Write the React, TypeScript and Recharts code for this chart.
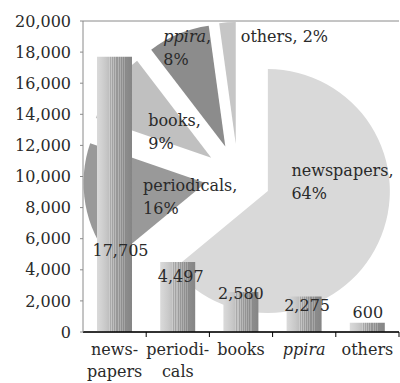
import React from 'react';
import { BarChart, Bar, XAxis, YAxis, CartesianGrid, LabelList, PieChart, Pie, Cell } from 'recharts';

// ---------- data ----------
const categories = ['newspapers', 'periodicals', 'books', 'ppira', 'others'];
const values = [17705, 4497, 2580, 2275, 600];
const tickLabels = [['news-', 'papers'], ['periodi-', 'cals'], ['books'], ['ppira'], ['others']];
const yTicks = [0, 2000, 4000, 6000, 8000, 10000, 12000, 14000, 16000, 18000, 20000];
const italicCategories = ['ppira'];

const data = categories.map((name, i) => ({ name, value: values[i] }));
const total = values.reduce((a, b) => a + b, 0);
const percents = values.map((v) => Math.round((v / total) * 100));

// ---------- layout / style ----------
const W = 400;
const H = 383;
const FONT = '"DejaVu Serif", serif';
const MARGIN = { top: 21, right: 1, left: 0, bottom: 0 };
const Y_AXIS_W = 83;
const X_AXIS_H = 51;
const PLOT_BOTTOM = H - X_AXIS_H;
const BAND = (W - Y_AXIS_W - MARGIN.right) / categories.length;
const TEXT = '#2a2a2a';

const sliceColors = ['#d9d9d9', '#999999', '#c0c0c0', '#8c8c8c', '#c6c6c6'];
const PIE_CX = 238;
const PIE_CY = 177;
const PIE_R = 122;
const EXPLODE = 33;

// label offsets relative to each exploded slice vertex: [dx, baseline dy]
const pieLabelOffsets = [
  [23.6, -15],
  [-62.5, 8],
  [-63, -31.7],
  [-62, -104.5],
  [5, -102],
];
const pieLabelSingleLine = [false, false, false, false, true];
const PIE_LINE_H = 23;

// bar value label offsets: [dx from bar centre, baseline dy from bar top]
const barLabelOffsets = [
  [6, 199],
  [3, 20],
  [0, 7.5],
  [3, 14],
  [0.5, -5],
];

// slice mid angles (recharts convention, start at 90, clockwise)
let cum = 0;
const sliceVertices = values.map((v) => {
  const mid = 90 - (360 * (cum + v / 2)) / total;
  cum += v;
  const rad = (mid * Math.PI) / 180;
  return [PIE_CX + EXPLODE * Math.cos(rad), PIE_CY - EXPLODE * Math.sin(rad)];
});

// stripe gradient stops
const stripeStops: { offset: string; color: string }[] = [];
(() => {
  const push = (o: number, c: string) => stripeStops.push({ offset: `${o}%`, color: c });
  push(0, '#dadada');
  push(12, '#d2d2d2');
  push(25, '#c8c8c8');
  push(34, '#bfbfbf');
  const light = ['#cbcbcb', '#c4c4c4', '#bdbdbd', '#b8b8b8', '#b2b2b2', '#adadad', '#a8a8a8', '#a4a4a4'];
  const dark = ['#a9a9a9', '#a3a3a3', '#9d9d9d', '#989898', '#949494', '#909090', '#8d8d8d', '#8a8a8a'];
  let o = 34;
  const w = 3.1;
  for (let k = 0; k < light.length; k++) {
    push(o, light[k]);
    push(o + w, light[k]);
    push(o + w, dark[k]);
    push(o + 2 * w, dark[k]);
    o += 2 * w;
  }
  push(o, '#8c8c8c');
  push(100, '#858585');
})();

const XTick = (props: any) => {
  const { x, payload } = props;
  const idx = categories.indexOf(payload.value);
  const lines = tickLabels[idx] || [String(payload.value)];
  const italic = italicCategories.includes(payload.value);
  const bx = x + BAND / 2;
  return (
    <g>
      <line x1={bx} x2={bx} y1={PLOT_BOTTOM} y2={PLOT_BOTTOM + 5} stroke="#000" strokeWidth={1} />
      <text
        textAnchor="middle"
        fill={TEXT}
        fontSize={16}
        fontFamily={FONT}
        fontStyle={italic ? 'italic' : 'normal'}
      >
        {lines.map((l, k) => (
          <tspan key={k} x={x} y={PLOT_BOTTOM + 23 + k * 22}>
            {l}
          </tspan>
        ))}
      </text>
    </g>
  );
};

const BarValueLabel = (props: any) => {
  const { x, y, width, value, index } = props;
  const [dx, dy] = barLabelOffsets[index] || [0, -4];
  return (
    <text
      x={x + width / 2 + dx}
      y={y + dy}
      textAnchor="middle"
      fill={TEXT}
      fontSize={16}
      fontFamily={FONT}
    >
      {Number(value).toLocaleString('en-US')}
    </text>
  );
};

const makePieLabel = (i: number) => (props: any) => {
  if (props.index !== i) return null;
  const [vx, vy] = sliceVertices[i];
  const [dx, dy] = pieLabelOffsets[i];
  const name = categories[i];
  const italic = italicCategories.includes(name);
  const pctText = `${percents[i]}%`;
  if (pieLabelSingleLine[i]) {
    return (
      <text x={vx + dx} y={vy + dy} fill={TEXT} fontSize={16} fontFamily={FONT}>
        <tspan fontStyle={italic ? 'italic' : 'normal'}>{name}</tspan>
        {`, ${pctText}`}
      </text>
    );
  }
  return (
    <text fill={TEXT} fontSize={16} fontFamily={FONT}>
      <tspan x={vx + dx} y={vy + dy} fontStyle={italic ? 'italic' : 'normal'}>
        {name}
      </tspan>
      <tspan>,</tspan>
      <tspan x={vx + dx} y={vy + dy + PIE_LINE_H}>
        {pctText}
      </tspan>
    </text>
  );
};

const layer: React.CSSProperties = { position: 'absolute', left: 0, top: 0, width: W, height: H };

export default function App() {
  return (
    <div style={{ position: 'absolute', left: 0, top: 0, width: W, height: H, background: '#fff', fontFamily: FONT }}>
      {/* grid layer */}
      <div style={layer}>
        <BarChart width={W} height={H} data={data} margin={MARGIN}>
          <CartesianGrid vertical={false} stroke="#8a8a8a" strokeWidth={1} />
          <XAxis dataKey="name" height={X_AXIS_H} tick={false} axisLine={false} tickLine={false} />
          <YAxis
            width={Y_AXIS_W}
            domain={[0, 20000]}
            ticks={yTicks}
            tick={false}
            axisLine={false}
            tickLine={false}
          />
        </BarChart>
      </div>
      {/* exploded pie layer */}
      <div style={layer}>
        <PieChart width={W} height={H} margin={{ top: 0, right: 0, bottom: 0, left: 0 }}>
          {categories.map((_, i) => (
            <Pie
              key={i}
              data={data}
              dataKey="value"
              nameKey="name"
              cx={sliceVertices[i][0]}
              cy={sliceVertices[i][1]}
              outerRadius={PIE_R}
              innerRadius={0}
              startAngle={90}
              endAngle={-270}
              stroke="none"
              isAnimationActive={false}
              labelLine={false}
              label={makePieLabel(i)}
            >
              {data.map((_, j) => (
                <Cell key={j} fill={j === i ? sliceColors[j] : 'none'} stroke="none" />
              ))}
            </Pie>
          ))}
        </PieChart>
      </div>
      {/* bars + axes layer */}
      <div style={layer}>
        <BarChart width={W} height={H} data={data} margin={MARGIN}>
          <defs>
            <linearGradient id="stripes" x1="0" y1="0" x2="1" y2="0">
              {stripeStops.map((s, k) => (
                <stop key={k} offset={s.offset} stopColor={s.color} />
              ))}
            </linearGradient>
          </defs>
          <XAxis
            dataKey="name"
            height={X_AXIS_H}
            interval={0}
            tick={<XTick />}
            tickLine={false}
            axisLine={{ stroke: '#000', strokeWidth: 1.3 }}
          />
          <YAxis
            width={Y_AXIS_W}
            domain={[0, 20000]}
            ticks={yTicks}
            interval={0}
            tickFormatter={(v: number) => v.toLocaleString('en-US')}
            tick={{ fill: TEXT, fontSize: 16, fontFamily: FONT }}
            tickSize={3}
            tickMargin={9}
            tickLine={{ stroke: '#8a8a8a' }}
            axisLine={{ stroke: '#8a8a8a' }}
          />
          <Bar dataKey="value" barSize={35} fill="url(#stripes)" isAnimationActive={false}>
            <LabelList dataKey="value" content={<BarValueLabel />} />
          </Bar>
        </BarChart>
      </div>
    </div>
  );
}
